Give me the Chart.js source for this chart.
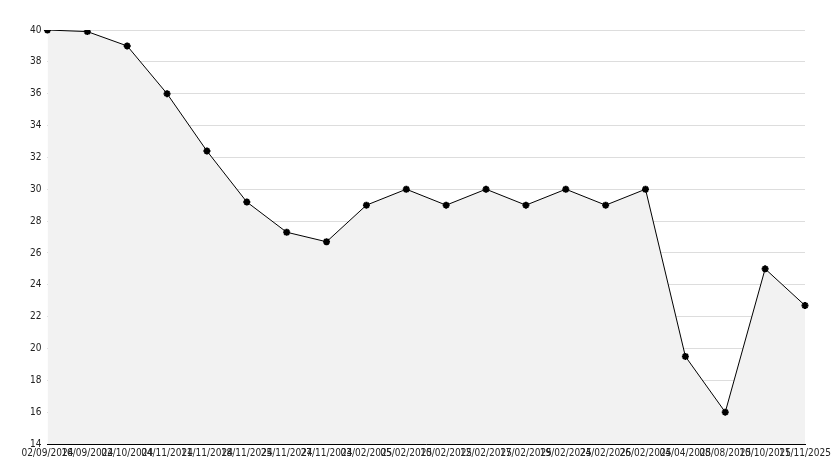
<!DOCTYPE html>
<html>
<head>
<script src="https://cdn.jsdelivr.net/npm/chart.js@4"></script>
<style>
  html, body { margin: 0; background: #fff; }
  #wrap { width: 834px; height: 468px; }
</style>
</head>
<body>
<div id="wrap"><canvas id="chart"></canvas></div>
<script>
// dates along the x axis (labels overlap in the original too)
const dateLabels = ['02/09/2024', '16/09/2024', '02/10/2024', '04/11/2024', '11/11/2024',
    '18/11/2024', '25/11/2024', '27/11/2024', '03/02/2025', '05/02/2025',
    '10/02/2025', '12/02/2025', '17/02/2025', '19/02/2025', '24/02/2025',
    '26/02/2025', '04/04/2025', '08/08/2025', '10/10/2025', '11/11/2025'];
const values = [40, 39.9, 39, 36, 32.4, 29.2, 27.3, 26.7, 29, 30,
    29, 30, 29, 30, 29, 30, 19.5, 16, 25, 22.7];

const ctx = document.getElementById('chart');
new Chart(ctx, {
    type: 'line',
    data: {
        labels: dateLabels,
        datasets: [{
            data: values,
            borderColor: '#000',
            borderWidth: 1,
            backgroundColor: '#f2f2f2',
            fill: 'start',
            tension: 0,
            pointRadius: 3.5,
            pointStyle: 'star',
            pointBorderColor: '#000',
            pointBorderWidth: 2,
            pointBackgroundColor: '#000'
        }]
    },
    options: {
        responsive: true,
        maintainAspectRatio: false,
        animation: false,
        layout: { padding: { left: 24, right: 29, top: 30, bottom: 9 } },
        plugins: { legend: { display: false }, tooltip: { enabled: false } },
        scales: {
            x: {
                offset: false,
                grid: { display: false, drawTicks: true, tickLength: 3, tickColor: '#000' },
                border: { color: '#000' },
                ticks: {
                    autoSkip: false, maxRotation: 0, minRotation: 0,
                    color: '#222', font: { family: 'DejaVu Sans Condensed', size: 10 }, padding: 0
                }
            },
            y: {
                min: 14, max: 40,
                grid: { color: '#dddddd', drawTicks: false },
                border: { display: false },
                ticks: {
                    stepSize: 2, color: '#222', padding: 6,
                    font: { family: 'DejaVu Sans Condensed', size: 10 }
                }
            }
        }
    }
});
</script>
</body>
</html>
